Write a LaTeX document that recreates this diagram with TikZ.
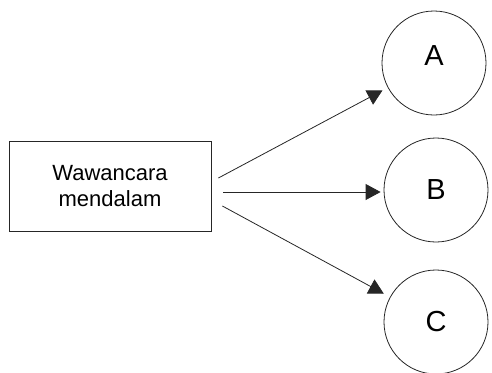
\documentclass[tikz,border=0pt]{standalone}
\usepackage{fontspec}
\setmainfont{Liberation Sans}
\usetikzlibrary{arrows.meta, positioning}

\begin{document}
\begin{tikzpicture}[x=1pt, y=-1pt,
  every node/.style={draw=black!85, line width=0.8pt},
  letter/.style={circle, minimum size=104pt, inner sep=0pt, font=\fontsize{29}{34}\selectfont},
  arrow/.style={-{Triangle[length=15pt, width=16pt]}, line width=0.8pt, black!85}
]
\useasboundingbox (0,0) rectangle (492,372);

\node[minimum width=202pt, minimum height=90pt, align=center,
  font=\fontsize{22}{26}\selectfont] (wawancara) at (110,186) {Wawancara\\mendalam};

\node[letter, text depth=14pt] (A) at (434,63) {A};
\node[letter] (B) at (436,190) {B};
\node[letter] (C) at (436,322) {C};

\coordinate (mid) at ([xshift=12pt, yshift=-6pt]wawancara.east);

\draw[arrow, shorten >=6pt] ([xshift=7pt, yshift=8pt]wawancara.east) -- (A);
\draw[arrow, shorten >=3pt] (mid) -- (mid -| B.west);
\draw[arrow, shorten >=7pt] ([xshift=11pt, yshift=-20pt]wawancara.east) -- (C);
\end{tikzpicture}
\end{document}
